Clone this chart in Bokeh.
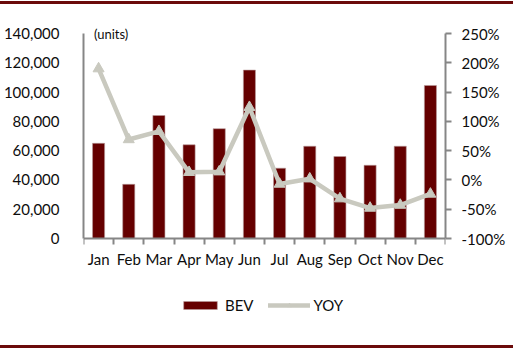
from bokeh.plotting import figure
from bokeh.models import (ColumnDataSource, Range1d, LinearAxis, FixedTicker,
                          NumeralTickFormatter, Legend, LegendItem, Label)
from bokeh.embed import file_html
from bokeh.resources import INLINE

months = ["Jan", "Feb", "Mar", "Apr", "May", "Jun", "Jul", "Aug", "Sep", "Oct", "Nov", "Dec"]
bev = [65000, 37000, 84000, 64000, 75000, 115000, 48000, 63000, 56000, 50000, 63000, 104500]
yoy = [1.90, 0.69, 0.83, 0.13, 0.14, 1.24, -0.07, 0.02, -0.32, -0.48, -0.43, -0.24]
bev_ticks = [0, 20000, 40000, 60000, 80000, 100000, 120000, 140000]
yoy_ticks = [-1.0, -0.5, 0.0, 0.5, 1.0, 1.5, 2.0, 2.5]

FONT = "Lato"
FS = "15px"
TXT = "#0d0d0d"
BAR = "#650000"
LINE = "#c9c9bf"
AXC = "#868686"
RULE = "#6b0a0a"

# layout in pixels: frame spans y 20..315, axis top (140000 / 250%) at 33, zero line at 238
W, H = 513, 351
F_TOP, F_BOT = 20, 315
A_TOP, A_ZERO = 33, 238
per_px_l = (bev_ticks[-1] - bev_ticks[0]) / (A_ZERO - A_TOP)
per_px_r = (yoy_ticks[-1] - yoy_ticks[0]) / (A_ZERO - A_TOP)
yl = Range1d(bev_ticks[0] - (F_BOT - A_ZERO) * per_px_l, bev_ticks[-1] + (A_TOP - F_TOP) * per_px_l)
yr = Range1d(yoy_ticks[0] - (F_BOT - A_ZERO) * per_px_r, yoy_ticks[-1] + (A_TOP - F_TOP) * per_px_r)

xpos = [i + 0.5 for i in range(len(months))]
src = ColumnDataSource(data=dict(x=xpos, bev=bev, yoy=yoy, m=months))

p = figure(width=W, height=H, output_backend="svg", toolbar_location=None,
           x_range=Range1d(0, 12), y_range=yl,
           min_border_left=80, min_border_right=68, min_border_top=F_TOP,
           min_border_bottom=H - F_BOT)
p.outline_line_color = None
p.xgrid.visible = False
p.ygrid.visible = False
p.background_fill_color = "white"
p.border_fill_alpha = 0
p.styles = {"background": (f"linear-gradient(to bottom, white 0px, white 1px, {RULE} 1px, "
                           f"{RULE} 4px, white 4px, white 345px, {RULE} 345px, {RULE} 348px, "
                           f"white 348px, white 100%)")}

p.extra_y_ranges = {"pct": yr}

bars = p.vbar(x="x", top="bev", width=0.4, source=src, fill_color=BAR,
              line_color="#b89a9a", line_width=0.6)
ln = p.line(x="x", y="yoy", source=src, y_range_name="pct", line_color=LINE, line_width=4.5,
            line_join="round", line_cap="round")
mk = p.scatter(x="x", y="yoy", source=src, y_range_name="pct", marker="triangle", size=11,
               fill_color=LINE, line_color=LINE)

# bottom axis, drawn at zero
xa = p.xaxis[0]
xa.fixed_location = 0
xa.ticker = FixedTicker(ticks=xpos, minor_ticks=list(range(13)))
xa.major_label_overrides = {x: m for x, m in zip(xpos, months)}
xa.major_tick_line_color = None
xa.minor_tick_line_color = AXC
xa.minor_tick_line_width = 2
xa.minor_tick_out = 6
xa.minor_tick_in = 0
xa.axis_line_color = AXC
xa.axis_line_width = 2
xa.major_label_standoff = 5
xa.major_label_text_font = FONT
xa.major_label_text_font_size = FS
xa.major_label_text_color = TXT

# left axis
ya = p.yaxis[0]
ya.bounds = (bev_ticks[0], bev_ticks[-1])
ya.ticker = FixedTicker(ticks=bev_ticks)
ya.formatter = NumeralTickFormatter(format="0,0")
ya.major_tick_line_color = None
ya.minor_tick_line_color = None
ya.axis_line_color = AXC
ya.axis_line_width = 2
ya.major_label_standoff = 18
ya.major_label_text_font = FONT
ya.major_label_text_font_size = FS
ya.major_label_text_color = TXT

# right axis
ra = LinearAxis(y_range_name="pct", bounds=(yoy_ticks[0], yoy_ticks[-1]))
ra.ticker = FixedTicker(ticks=yoy_ticks)
ra.formatter = NumeralTickFormatter(format="0%")
ra.major_tick_line_color = AXC
ra.major_tick_line_width = 2
ra.major_tick_out = 6
ra.major_tick_in = 0
ra.minor_tick_line_color = None
ra.axis_line_color = AXC
ra.axis_line_width = 2
ra.major_label_standoff = 10
ra.major_label_text_font = FONT
ra.major_label_text_font_size = FS
ra.major_label_text_color = TXT
p.add_layout(ra, "right")

p.add_layout(Label(x=0.35, y=bev_ticks[-1], text="(units)", text_font=FONT,
                   text_font_size="13px", text_color=TXT, text_baseline="middle"))

legend = Legend(items=[LegendItem(label="BEV", renderers=[bars]),
                       LegendItem(label="YOY", renderers=[ln, mk])],
                orientation="horizontal", location=(96, 1), border_line_color=None,
                background_fill_alpha=0, label_text_font=FONT, label_text_font_size=FS,
                label_text_color=TXT, glyph_width=42, glyph_height=10, spacing=14,
                label_standoff=4, padding=0, margin=0)
p.add_layout(legend, "center")

open("out.html", "w").write(file_html(p, INLINE))
